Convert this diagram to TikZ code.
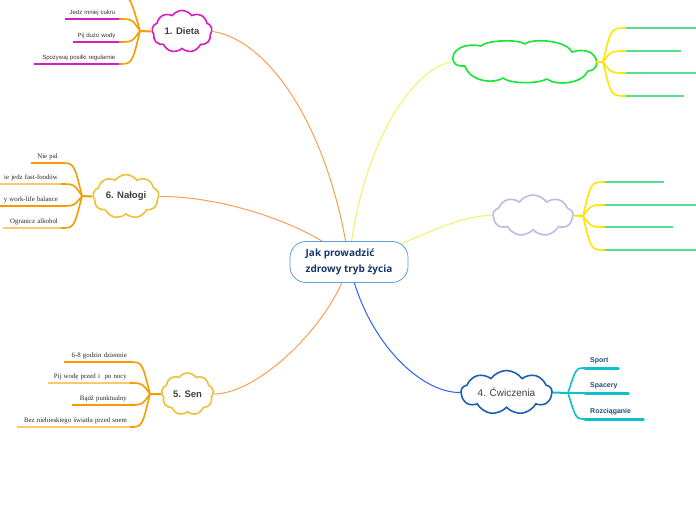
\documentclass[tikz,border=0pt]{standalone}
\usepackage{fontspec}
\setmainfont{Liberation Serif}
\setsansfont{Liberation Sans}
\newfontfamily\rootfont{Open Sans}
\usetikzlibrary{shapes.symbols, calc, backgrounds}
\definecolor{mymagenta}{HTML}{D81CC0}
\definecolor{myorange}{HTML}{F59B00}
\definecolor{mylightorange}{HTML}{FFC870}
\definecolor{mypaleorange}{HTML}{F7A050}
\definecolor{myyellow}{HTML}{FFE600}
\definecolor{mypaleyellow}{HTML}{F5F060}
\definecolor{mygreen}{HTML}{14E632}
\definecolor{myleafgreen}{HTML}{55E090}
\definecolor{mylavender}{HTML}{BCBCE4}
\definecolor{mygold}{HTML}{EBC23C}
\definecolor{mycloudblue}{HTML}{1F5FAF}
\definecolor{myedgeblue}{HTML}{2D5FF5}
\definecolor{myteal}{HTML}{10C0C8}
\definecolor{myrootblue}{HTML}{5E9FD8}
\definecolor{mynavy}{HTML}{1A3868}
\definecolor{myleafnavy}{HTML}{1F4E79}
\tikzset{
  base cloud/.style={cloud, cloud puffs=9, cloud puff arc=110, line width=1.6pt, fill=white, inner sep=0pt, font=\sffamily\bfseries\fontsize{9.5}{11}\selectfont, text=black!75},
  cloud dieta/.style={base cloud, draw=mymagenta, aspect=1.43, minimum width=60pt, minimum height=42pt},
  cloud gold/.style={base cloud, draw=mygold},
  cloud frame/.style={rectangle, inner sep=0pt, minimum width=144pt, minimum height=40pt},
  cloud outline/.style={line width=1.6pt, line join=round, fill=white},
  cloud lavender/.style={base cloud, draw=mylavender, aspect=1.95, minimum width=80pt, minimum height=41pt},
  cloud blue/.style={base cloud, draw=mycloudblue, aspect=2.6, font=\sffamily\fontsize{10}{11}\selectfont, minimum width=91pt, minimum height=41pt},
  root node/.style={draw=myrootblue, line width=0.8pt, rounded corners=16pt, fill=white, minimum width=118pt, minimum height=41pt, inner xsep=12pt, align=left, font=\rootfont\bfseries\fontsize{10}{15.5}\selectfont, text=mynavy},
  main edge/.style={line width=1pt},
  fork edge/.style={line width=1.6pt},
  stub edge/.style={line width=2pt},
  under line/.style={line width=1.3pt},
  leaf sans/.style={anchor=south east, inner xsep=3.5pt, inner ysep=3pt, align=right, font=\sffamily\fontsize{6}{7}\selectfont, text=black!80},
  leaf serif/.style={anchor=south east, inner xsep=3pt, inner ysep=3pt, align=right, font=\rmfamily\fontsize{6.8}{7.5}\selectfont, text=black!85},
  leaf bold/.style={anchor=south west, inner xsep=5pt, inner ysep=3.5pt, align=left, font=\sffamily\bfseries\fontsize{7}{8}\selectfont, text=myleafnavy},
  leaf blank/.style={anchor=west, inner sep=0pt, minimum height=0pt}
}

\begin{document}
\begin{tikzpicture}[x=1pt, y=-1pt]
  \useasboundingbox (0,0) rectangle (696,520);

  % =================================================================================
  % CENTRAL TOPIC AND MAIN TOPICS
  % =================================================================================

  \node[root node] (Root) at (349,262) {Jak prowadzić\\zdrowy tryb życia};

  \node[cloud dieta] (Dieta) at (182,31.5) {1. Dieta};
  \node[cloud gold, aspect=1.6, minimum width=66pt, minimum height=41pt] (Nalogi) at (126,196.5) {6. Nałogi};
  \node[cloud gold, aspect=1.24, minimum width=52pt, minimum height=42pt] (Sen) at (187.5,394) {5. Sen};
  \node[cloud lavender] (Lavender) at (533,215.5) {};
  \node[cloud blue] (Cwiczenia) at (506.5,392.5) {4. Ćwiczenia};

  % Long flat cloud, drawn puff by puff round its frame
  \node[cloud frame] (Green) at (523,62) {};
  \draw[cloud outline, draw=mygreen] (481,46)
    .. controls (487,40) and (518,39) .. (525,44)
    .. controls (532,38) and (566,40) .. (572,52)
    .. controls (598,44) and (604,70) .. (588,71)
    .. controls (582,84) and (556,86) .. (547,79)
    .. controls (538,84) and (510,84) .. (503,78)
    .. controls (494,84) and (470,82) .. (465,66)
    .. controls (444,68) and (450,40) .. (481,46) -- cycle;

  % Connectors from the central topic, hidden behind the box
  \begin{pgfonlayer}{background}
    \draw[main edge, mypaleorange] (Root.center) .. controls (330,130) and (270,40) .. (Dieta.east);
    \draw[main edge, mypaleorange] (Root.center) .. controls (320,230) and (230,196) .. (Nalogi.east);
    \draw[main edge, mypaleorange] (Root.center) .. controls (335,320) and (260,394) .. (Sen.east);
    \draw[main edge, mypaleyellow] (Root.center) .. controls (360,150) and (410,70) .. (Green.west);
    \draw[main edge, mypaleyellow] (Root.center) .. controls (400,250) and (450,215) .. (Lavender.west);
    \draw[main edge, myedgeblue] (Root.center) .. controls (365,340) and (420,393) .. (Cwiczenia.west);
  \end{pgfonlayer}

  % =================================================================================
  % 1. DIETA
  % =================================================================================

  \coordinate (DJ) at (140,31);
  \coordinate (D0) at (119,-4);
  \node[leaf sans, text width=47pt] (D1) at (119,19) {Jedz mniej cukru};
  \node[leaf sans, text width=39pt] (D2) at (119,42) {Pij dużo wody};
  \node[leaf sans, text width=78pt] (D3) at (119,64) {Spożywaj posiłki regularnie};
  \foreach \leaf in {D1,D2,D3}
    \draw[under line, mymagenta] (\leaf.south west) -- (\leaf.south east);
  \draw[stub edge, myorange] (Dieta.west) -- (DJ);
  \draw[fork edge, myorange] (DJ) .. controls ($(DJ |- D0)+(-10,0)$) .. (D0);
  \foreach \leaf in {D1,D2,D3}
    \draw[fork edge, myorange] (DJ) .. controls ($(DJ |- \leaf.south east)+(-8,0)$) .. (\leaf.south east);

  % =================================================================================
  % 6. NALOGI
  % =================================================================================

  \coordinate (NJ) at (82,196);
  \node[leaf serif, text width=24pt] (N1) at (61,163) {Nie pal};
  \node[leaf serif, text width=64pt] (N2) at (61,184) {ie jedz fast-foodów};
  \node[leaf serif, text width=64pt] (N3) at (61,206) {y work-life balance};
  \node[leaf serif, text width=52pt] (N4) at (61,228) {Ogranicz alkohol};
  \draw[under line, myorange] (N1.south west) -- (N1.south east);
  \draw[under line, mylightorange] (N2.south west) -- (N2.south east);
  \draw[under line, myorange] (N3.south west) -- (N3.south east);
  \draw[under line, mylightorange] (N4.south west) -- (N4.south east);
  \draw[stub edge, myorange] (Nalogi.west) -- (NJ);
  \foreach \leaf in {N1,N2,N3,N4}
    \draw[fork edge, myorange] (NJ) .. controls ($(NJ |- \leaf.south east)+(-8,0)$) .. (\leaf.south east);

  % =================================================================================
  % 5. SEN
  % =================================================================================

  \coordinate (SJ) at (150,394);
  \node[leaf serif, text width=60pt] (S1) at (130,362) {6-8 godzin dziennie};
  \node[leaf serif, text width=76pt] (S2) at (130,383) {Pij wodę przed i\ \ po nocy};
  \node[leaf serif, text width=52pt] (S3) at (130,405) {Bądź punktualny};
  \node[leaf serif, text width=107pt] (S4) at (130,427) {Bez niebieskiego światła przed snem};
  \draw[under line, myorange] (S1.south west) -- (S1.south east);
  \draw[under line, mylightorange] (S2.south west) -- (S2.south east);
  \draw[under line, myorange] (S3.south west) -- (S3.south east);
  \draw[under line, mylightorange] (S4.south west) -- (S4.south east);
  \draw[stub edge, myorange] (Sen.west) -- (SJ);
  \foreach \leaf in {S1,S2,S3,S4}
    \draw[fork edge, myorange] (SJ) .. controls ($(SJ |- \leaf.south east)+(-8,0)$) .. (\leaf.south east);

  % =================================================================================
  % EMPTY TOPICS (RIGHT)
  % =================================================================================

  \coordinate (GJ) at (603,62);
  \node[leaf blank, minimum width=80pt] (G1) at (626,28) {};
  \node[leaf blank, minimum width=55pt] (G2) at (626,51) {};
  \node[leaf blank, minimum width=80pt] (G3) at (626,73) {};
  \node[leaf blank, minimum width=58pt] (G4) at (626,96) {};
  \draw[stub edge, myyellow] (Green.east) -- (GJ);
  \foreach \leaf in {G1,G2,G3,G4} {
    \draw[under line, myleafgreen] (\leaf.west) -- (\leaf.east);
    \draw[fork edge, myyellow] (GJ) .. controls ($(GJ |- \leaf.west)+(8,0)$) .. (\leaf.west);
  }

  \coordinate (LJ) at (583,216);
  \node[leaf blank, minimum width=59pt] (L1) at (605,182) {};
  \node[leaf blank, minimum width=100pt] (L2) at (605,205) {};
  \node[leaf blank, minimum width=68pt] (L3) at (605,227) {};
  \node[leaf blank, minimum width=100pt] (L4) at (605,250) {};
  \draw[stub edge, myyellow] (Lavender.east) -- (LJ);
  \foreach \leaf in {L1,L2,L3,L4} {
    \draw[under line, myleafgreen] (\leaf.west) -- (\leaf.east);
    \draw[fork edge, myyellow] (LJ) .. controls ($(LJ |- \leaf.west)+(8,0)$) .. (\leaf.west);
  }

  % =================================================================================
  % 4. CWICZENIA
  % =================================================================================

  \coordinate (CJ) at (568,393);
  \node[leaf bold, text width=23pt] (C1) at (585,368) {Sport};
  \node[leaf bold, text width=33pt] (C2) at (585,393) {Spacery};
  \node[leaf bold, text width=48pt] (C3) at (585,419) {Rozciąganie};
  \draw[stub edge, myteal] (Cwiczenia.east) -- (CJ);
  \foreach \leaf in {C1,C2,C3} {
    \draw[line width=3pt, myteal, line cap=round] (\leaf.south west) -- (\leaf.south east);
    \draw[fork edge, myteal] (CJ) .. controls ($(CJ |- \leaf.south west)+(8,0)$) .. (\leaf.south west);
  }

\end{tikzpicture}
\end{document}
